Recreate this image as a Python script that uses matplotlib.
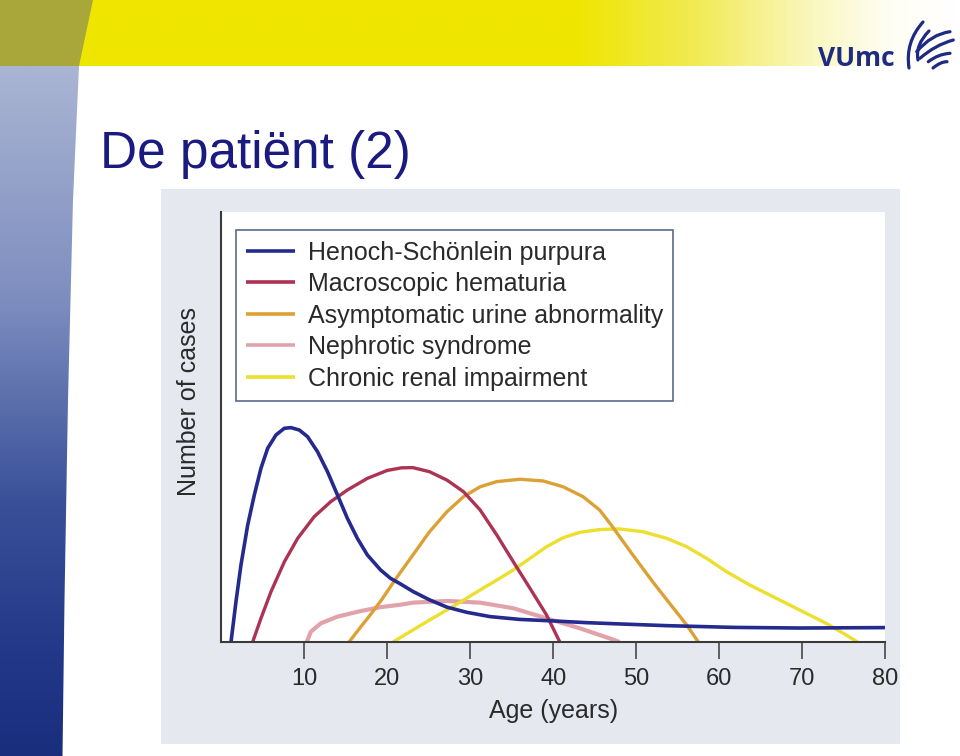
import numpy as np
import matplotlib
matplotlib.use('Agg')
import matplotlib.pyplot as plt
from matplotlib.colors import LinearSegmentedColormap
from matplotlib.patches import Polygon, Rectangle, PathPatch
from matplotlib.path import Path

plt.rcParams['font.family'] = ['Liberation Sans', 'DejaVu Sans']

# ---------------- data ----------------
title_text = 'De patiënt (2)'
x_label = 'Age (years)'
y_label = 'Number of cases'
age_ticks = [10, 20, 30, 40, 50, 60, 70, 80]

series_labels = ['Henoch-Schönlein purpura', 'Macroscopic hematuria',
                 'Asymptomatic urine abnormality', 'Nephrotic syndrome',
                 'Chronic renal impairment']
series_colors = ['#252a8e', '#ac3352', '#dca135', '#e2a2ab', '#ecdf2e']

hsp_age = [1.17, 1.77, 2.37, 3.18, 3.98, 4.78, 5.59, 6.59, 7.6, 8.4, 9.4,
           10.4, 11.6, 12.8, 14.0, 15.2, 16.4, 17.6, 19.2, 20.4, 21.6, 23.1,
           25.1, 27.2, 29.6, 32.4, 36.0, 40.0, 44.0, 48.0, 53.7, 61.7, 69.7,
           80.0]
hsp_cases = [0, 18.8, 35.8, 54.4, 68.4, 80.8, 90.1, 96.3, 99.4, 99.7, 98.6,
             95.5, 88.5, 79.2, 68.4, 57.5, 48.2, 40.5, 33.5, 29.6, 27.0, 23.5,
             19.6, 16.2, 13.8, 11.8, 10.5, 9.8, 9.0, 8.4, 7.6, 6.8, 6.5,
             6.7]

mh_age = [3.78, 4.78, 5.99, 7.6, 9.2, 11.2, 13.2, 15.2, 17.6, 20.0, 21.7,
          23.1, 25.1, 27.2, 29.2, 31.2, 33.2, 35.2, 37.2, 39.2, 40.8]
mh_cases = [0, 11, 23.4, 37.3, 48.2, 58.3, 65.3, 70.7, 76.1, 79.8, 81.0,
            81.1, 79.2, 75.3, 69.9, 61.4, 49.8, 37.3, 25, 12.6, 0]

aua_age = [15.4, 16.7, 18.0, 19.3, 21.0, 23.1, 25.1, 27.2, 29.2, 31.2, 33.2,
           36.0, 38.8, 41.2, 43.6, 45.6, 47.0, 49.6, 52.0, 54.5, 56.1, 57.5]
aua_cases = [0, 6.5, 12.8, 19.5, 29.2, 40.5, 51.3, 60.6, 67.6, 72.2, 74.6,
             75.7, 74.9, 72.2, 67.6, 61.4, 54.4, 40.5, 28, 15.7, 7.9, 0]

ns_age = [10.3, 10.8, 12.0, 14.0, 16.8, 19.2, 21.7, 23.1, 27.2, 31.2, 35.2,
          39.2, 43.2, 46.8, 48.0]
ns_cases = [0, 4.8, 8.7, 11.8, 14.4, 16.2, 17.4, 18.3, 19.1, 18.3, 15.7,
            11.0, 6.4, 1.7, 0]

cri_age = [20.7, 23.1, 25.1, 27.2, 29.2, 31.2, 33.2, 35.2, 37.2, 39.2, 41.2,
           43.2, 45.6, 48.0, 50.8, 53.7, 56.1, 58.5, 60.9, 63.7, 66.5, 69.7,
           72.9, 75.3, 76.7]
cri_cases = [0, 5.6, 10.2, 14.9, 19.5, 24.2, 28.8, 33.5, 38.9, 44.3, 48.5,
             51.0, 52.3, 52.6, 51.3, 48.2, 44.3, 38.9, 32.7, 26.5, 21.1, 14.9,
             8.7, 3.3, 0]

series_x = [hsp_age, mh_age, aua_age, ns_age, cri_age]
series_y = [hsp_cases, mh_cases, aua_cases, ns_cases, cri_cases]
series_z = [7, 6, 5, 3, 4]
series_lw = [2.6, 2.4, 2.4, 3.0, 2.4]

# ---------------- figure / slide background ----------------
W, H = 960, 756
fig = plt.figure(figsize=(W / 100, H / 100), dpi=100)
bg = fig.add_axes([0, 0, 1, 1])
bg.set_xlim(0, W)
bg.set_ylim(H, 0)
bg.axis('off')

# top yellow band with fade to white
top_cmap = LinearSegmentedColormap.from_list(
    'top', [(0, '#efe600'), (0.6, '#efe600'), (0.72, '#f1ea50'),
            (0.85, '#faf7c0'), (0.93, '#fffef4'), (1, '#ffffff')])
bg.imshow(np.linspace(0, 1, 400)[None, :], extent=(0, W, 66, 0),
          cmap=top_cmap, aspect='auto', zorder=1)
bg.add_patch(Polygon([(0, 0), (93, 0), (79, 66), (0, 66)], closed=True,
                     facecolor='#a9a73a', edgecolor='none', zorder=2))

# left blue band with vertical gradient
blue_cmap = LinearSegmentedColormap.from_list(
    'blue', [(0, '#aab5d3'), (0.34, '#7d8dbf'), (0.63, '#3a5199'),
             (0.85, '#233888'), (1, '#1a2e7e')])
im = bg.imshow(np.linspace(0, 1, 400)[:, None], extent=(0, 90, H, 66),
               cmap=blue_cmap, aspect='auto', zorder=1)
clip = Polygon([(0, 66), (79, 66), (73, 200), (68, 400), (64.5, 600),
                (62.5, H), (0, H)], closed=True, transform=bg.transData,
               facecolor='none', edgecolor='none')
bg.add_patch(clip)
im.set_clip_path(clip)

# chart panel
bg.add_patch(Rectangle((161, 189), 739, 555, facecolor='#e6e8f0',
                       edgecolor='none', zorder=2))

# title
bg.text(100, 168, title_text, fontsize=37, color='#1b1a80',
        va='baseline', ha='left', zorder=3)

# logo
bg.text(818, 66, 'VUmc', family=['Open Sans', 'DejaVu Sans'], weight='bold',
        fontsize=19, color='#1d2b82', va='baseline', ha='left', zorder=3)
swooshes = [
    [(923, 22), (905, 42), (909, 68)],
    [(929, 31), (915, 45), (918, 60)],
    [(916.7, 51.7), (931.7, 34), (950, 31.7)],
    [(920, 58.3), (935, 45), (953.3, 40)],
    [(928.3, 61.7), (938.3, 54), (950, 53.3)],
    [(933, 68), (941, 61.5), (947, 61.7)],
]
for pts in swooshes:
    path = Path(pts, [Path.MOVETO, Path.CURVE3, Path.CURVE3])
    bg.add_patch(PathPatch(path, facecolor='none', edgecolor='#1d2b82',
                           lw=2.3, capstyle='round', zorder=3))

# ---------------- chart ----------------
ax_l, ax_r, ax_t, ax_b = 221.3, 885.0, 212.0, 642.0
ax = fig.add_axes([ax_l / W, 1 - ax_b / H, (ax_r - ax_l) / W, (ax_b - ax_t) / H])
ax.set_facecolor('white')
ax.set_xlim(0, 80)
ax.set_ylim(0, 200)

for xs, ys, lab, col, z, lw in zip(series_x, series_y, series_labels,
                                   series_colors, series_z, series_lw):
    ax.plot(xs, ys, color=col, lw=lw, label=lab, zorder=z,
            solid_capstyle='butt', solid_joinstyle='round')

for s in ['top', 'right']:
    ax.spines[s].set_visible(False)
for s in ['left', 'bottom']:
    ax.spines[s].set_color('#3a3a3a')
    ax.spines[s].set_linewidth(1.5)
    ax.spines[s].set_zorder(8)

ax.set_xticks(age_ticks)
ax.set_xticklabels([str(t) for t in age_ticks])
ax.set_yticks([])
ax.tick_params(axis='x', direction='out', length=12.5, width=1.1,
               color='#3a3a3a', pad=6.5, labelsize=17, labelcolor='#2a2a2a')

ax.set_xlabel(x_label, fontsize=18, color='#2a2a2a')
ax.xaxis.set_label_coords(0.5, -0.132)
ax.set_ylabel(y_label, fontsize=18, color='#2a2a2a')
ax.yaxis.set_label_coords(-0.030, 0.56)

leg = ax.legend(loc='upper left', bbox_to_anchor=(0.022, 0.958),
                borderaxespad=0, fontsize=18, frameon=True, fancybox=False,
                edgecolor='#5a6a8f', framealpha=1, handlelength=1.95,
                handletextpad=0.5, labelspacing=0.30, borderpad=0.42)
leg.get_frame().set_linewidth(1.2)
for t in leg.get_texts():
    t.set_color('#2a2a2a')
for h in leg.get_lines():
    h.set_linewidth(2.6)
leg.set_zorder(10)

fig.savefig('out.png', dpi=100)
